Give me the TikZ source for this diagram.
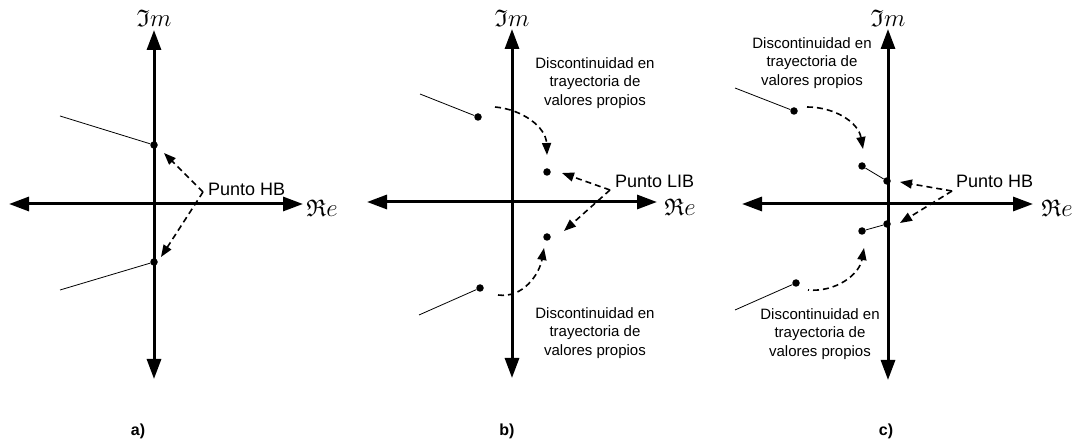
\documentclass[tikz,border=0pt]{standalone}
\usepackage{amssymb}
\usepackage{fontspec}
\setmainfont{Liberation Sans}
\usetikzlibrary{arrows.meta}
\tikzset{
  axis/.style={line width=3pt,{Triangle[length=20pt,width=14pt]}-{Triangle[length=20pt,width=14pt]}},
  darrow/.style={line width=1.6pt,dash pattern=on 6pt off 4pt,-{Triangle[length=12pt,width=9pt]}},
  thinline/.style={line width=0.8pt},
  dot/.style={circle,fill=black,inner sep=0pt,minimum size=7.5pt},
  txt/.style={inner sep=0pt,align=center,font=\fontsize{15}{18.3}\selectfont},
  ptxt/.style={inner sep=0pt,font=\fontsize{18}{21}\selectfont},
  axlabel/.style={inner sep=0pt,font=\fontsize{24}{28}\selectfont},
  subcap/.style={inner sep=0pt,font=\fontsize{16}{19}\selectfont\bfseries},
}
\begin{document}
\begin{tikzpicture}[x=1pt,y=-1pt]
\path[use as bounding box] (0,0) rectangle (1082,443);
% ---------------- panel a ----------------
\coordinate (aT) at (154,30);
\coordinate (aB) at (154,379);
\coordinate (aL) at (9,204);
\coordinate (aR) at (303,204);
\draw[axis] (aT) -- (aB);
\draw[axis] (aL) -- (aR);
\node[axlabel] (aIm) at (154,18) {$\mathfrak{I}m$};
\node[axlabel] (aRe) at (322,208) {$\mathfrak{R}e$};
\node[dot] (a1) at (154,145) {};
\node[dot] (a2) at (154,262) {};
\coordinate (a1s) at (60,116);
\coordinate (a2s) at (60,290);
\draw[thinline] (a1s) -- (a1);
\draw[thinline] (a2s) -- (a2);
\node[ptxt,anchor=west] (aP) at (208,189) {Punto HB};
\coordinate (aP0) at (203,192);
\coordinate (aP1) at (164,153);
\coordinate (aP2) at (161,257);
\draw[darrow] (aP0) -- (aP1);
\draw[darrow] (aP0) -- (aP2);
\node[subcap] (acap) at (138,431) {a)};
% ---------------- panel b ----------------
\coordinate (bT) at (512,29);
\coordinate (bB) at (512,378);
\coordinate (bL) at (367,202);
\coordinate (bR) at (657,202);
\draw[axis] (bT) -- (bB);
\draw[axis] (bL) -- (bR);
\node[axlabel] (bIm) at (512,18) {$\mathfrak{I}m$};
\node[axlabel] (bRe) at (680,207) {$\mathfrak{R}e$};
\node[dot] (b1) at (478,117) {};
\node[dot] (b2) at (547,172) {};
\node[dot] (b3) at (547,237) {};
\node[dot] (b4) at (480,288) {};
\coordinate (b1s) at (420,94);
\coordinate (b4s) at (419,315);
\draw[thinline] (b1s) -- (b1);
\draw[thinline] (b4s) -- (b4);
\coordinate (bc1s) at (495,107);
\coordinate (bc1e) at (547,155);
\coordinate (bc2s) at (498,295);
\coordinate (bc2e) at (544,248);
\draw[darrow] (bc1s) to[out=-5,in=92] (bc1e);
\draw[darrow] (bc2s) to[out=-8,in=-100] (bc2e);
\node[ptxt,anchor=west] (bP) at (615,181) {Punto LIB};
\coordinate (bP0) at (610,190);
\coordinate (bP1) at (562,173);
\coordinate (bP2) at (564,231);
\draw[darrow] (bP0) -- (bP1);
\draw[darrow] (bP0) -- (bP2);
\node[txt] (bD1) at (595,83) {Discontinuidad en\\trayectoria de\\valores propios};
\node[txt] (bD2) at (595,333) {Discontinuidad en\\trayectoria de\\valores propios};
\node[subcap] (bcap) at (507,431) {b)};
% ---------------- panel c ----------------
\coordinate (cT) at (888,29);
\coordinate (cB) at (888,380);
\coordinate (cL) at (742,204);
\coordinate (cR) at (1033,204);
\draw[axis] (cT) -- (cB);
\draw[axis] (cL) -- (cR);
\node[axlabel] (cIm) at (888,18) {$\mathfrak{I}m$};
\node[axlabel] (cRe) at (1057,208) {$\mathfrak{R}e$};
\node[dot] (c1) at (794,111) {};
\node[dot] (c2) at (862,166) {};
\node[dot] (c3) at (887,181) {};
\node[dot] (c4) at (887,224) {};
\node[dot] (c5) at (862,231) {};
\node[dot] (c6) at (796,283) {};
\coordinate (c1s) at (735,88);
\coordinate (c6s) at (735,310);
\draw[thinline] (c1s) -- (c1);
\draw[thinline] (c2) -- (c3);
\draw[thinline] (c4) -- (c5);
\draw[thinline] (c6s) -- (c6);
\coordinate (cc1s) at (807,107);
\coordinate (cc1e) at (863,149);
\coordinate (cc2s) at (808,290);
\coordinate (cc2e) at (864,248);
\draw[darrow] (cc1s) to[out=0,in=100] (cc1e);
\draw[darrow,dash phase=5pt] (cc2s) to[out=-5,in=-100] (cc2e);
\node[ptxt,anchor=west] (cP) at (956,181) {Punto HB};
\coordinate (cP0) at (952,191);
\coordinate (cP1) at (900,182);
\coordinate (cP2) at (900,223);
\draw[darrow] (cP0) -- (cP1);
\draw[darrow] (cP0) -- (cP2);
\node[txt] (cD1) at (812,63) {Discontinuidad en\\trayectoria de\\valores propios};
\node[txt] (cD2) at (820,334) {Discontinuidad en\\trayectoria de\\valores propios};
\node[subcap] (ccap) at (886,431) {c)};
\end{tikzpicture}
\end{document}
